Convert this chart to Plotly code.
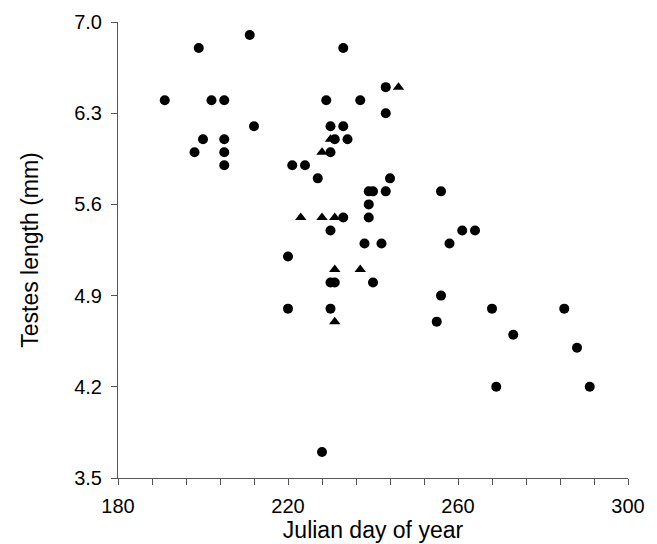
import plotly.graph_objects as go

# Circles (series 1)
circle_day = [191, 199, 211, 233, 202, 205, 229, 237, 243, 243,
              212, 230, 233, 200, 205, 231, 234, 198, 205, 230,
              205, 221, 224, 227, 244, 239, 240, 243, 256, 239,
              233, 239, 230, 261, 264, 238, 242, 258, 220, 230,
              231, 240, 256, 220, 230, 268, 285, 255, 273, 288,
              269, 291, 228]
circle_len = [6.4, 6.8, 6.9, 6.8, 6.4, 6.4, 6.4, 6.4, 6.5, 6.3,
              6.2, 6.2, 6.2, 6.1, 6.1, 6.1, 6.1, 6.0, 6.0, 6.0,
              5.9, 5.9, 5.9, 5.8, 5.8, 5.7, 5.7, 5.7, 5.7, 5.6,
              5.5, 5.5, 5.4, 5.4, 5.4, 5.3, 5.3, 5.3, 5.2, 5.0,
              5.0, 5.0, 4.9, 4.8, 4.8, 4.8, 4.8, 4.7, 4.6, 4.5,
              4.2, 4.2, 3.7]

# Triangles (series 2)
tri_day = [246, 230, 228, 223, 228, 231, 231, 237, 231]
tri_len = [6.5, 6.1, 6.0, 5.5, 5.5, 5.5, 5.1, 5.1, 4.7]

x_tick_vals = [180, 220, 260, 300]
x_tick_text = ["180", "220", "260", "300"]
y_tick_vals = [3.5, 4.2, 4.9, 5.6, 6.3, 7.0]
y_tick_text = ["3.5", "4.2", "4.9", "5.6", "6.3", "7.0"]

fig = go.Figure()
fig.add_trace(go.Scatter(x=tri_day, y=tri_len, mode="markers",
                         marker=dict(symbol="triangle-up", size=10, color="black"),
                         showlegend=False, cliponaxis=False, hoverinfo="skip"))
fig.add_trace(go.Scatter(x=circle_day, y=circle_len, mode="markers",
                         marker=dict(symbol="circle", size=10, color="black"),
                         showlegend=False, cliponaxis=False, hoverinfo="skip"))

font_family = "Liberation Sans, Arial, sans-serif"
axis_color = "#555555"

fig.update_layout(
    width=657, height=544,
    margin=dict(l=118, r=29, t=22, b=66, autoexpand=False),
    plot_bgcolor="white", paper_bgcolor="white",
    font=dict(family=font_family, color="black", size=20),
    xaxis=dict(range=[180, 300], tickmode="array", tickvals=x_tick_vals, ticktext=x_tick_text,
               ticks="outside", ticklen=6, tickcolor=axis_color, tickwidth=1,
               minor=dict(dtick=8, tick0=180, ticks="outside", ticklen=6, tickcolor=axis_color, showgrid=False),
               showline=True, linecolor=axis_color, linewidth=1, showgrid=False, zeroline=False,
               tickfont=dict(size=20), ticklabelstandoff=4, automargin=False,
               title=dict(text="Julian day of year", font=dict(size=23), standoff=4)),
    yaxis=dict(range=[3.5, 7.0], tickmode="array", tickvals=y_tick_vals, ticktext=y_tick_text,
               ticks="outside", ticklen=6, tickcolor=axis_color, tickwidth=1,
               showline=True, linecolor=axis_color, linewidth=1, showgrid=False, zeroline=False,
               tickfont=dict(size=20), ticklabelstandoff=5, automargin=False,
               title=dict(text="Testes length (mm)", font=dict(size=23), standoff=29)),
)

fig.write_html("out.html", config={"displayModeBar": False},
               post_script="document.body.style.margin='0';document.body.style.overflow='hidden';")
